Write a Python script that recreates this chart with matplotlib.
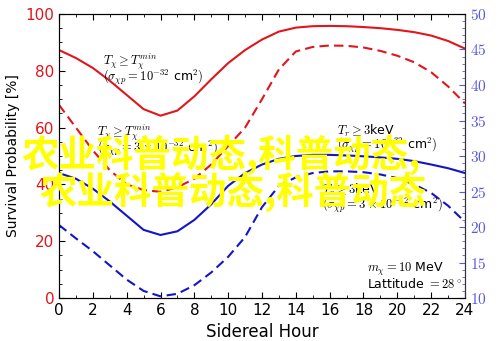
import matplotlib
matplotlib.use("Agg")
import matplotlib.pyplot as plt
from matplotlib.ticker import MultipleLocator, FuncFormatter

plt.rcParams['mathtext.fontset'] = 'cm'

# sidereal hour grid
hours = list(range(25))

# survival probability [%]
red_solid = [87.3, 84.5, 81.0, 76.5, 71.5, 66.5, 64.2, 66.0, 71.0, 77.0, 82.7, 87.3, 91.0,
             93.8, 95.2, 95.7, 95.8, 95.7, 95.4, 95.0, 94.4, 93.6, 92.4, 90.5, 87.8]
red_dashed = [68.0, 60.0, 52.0, 45.0, 40.0, 38.0, 37.4, 39.0, 42.0, 47.0, 53.5, 60.0, 70.0,
              80.5, 86.8, 88.4, 88.9, 88.8, 88.2, 87.0, 85.3, 83.0, 79.5, 74.5, 68.5]
blue_solid = [44.0, 42.0, 38.5, 34.0, 29.0, 24.0, 22.2, 23.5, 27.5, 33.0, 39.5, 44.0, 47.0,
              49.0, 50.0, 50.4, 50.4, 50.2, 49.9, 49.5, 49.0, 48.2, 47.0, 45.7, 44.0]
blue_dashed = [25.7, 21.0, 16.5, 11.5, 6.5, 2.5, 0.6, 1.5, 4.5, 9.0, 14.5, 21.5, 32.0,
               39.5, 42.5, 44.0, 44.6, 44.6, 44.3, 43.5, 42.2, 40.0, 37.0, 32.5, 26.8]

x_ticks = list(range(0, 25, 2))
left_ticks = [0, 20, 40, 60, 80, 100]
right_ticks = [10, 15, 20, 25, 30, 35, 40, 45, 50]

red = '#e0161c'
blue = '#1414c8'
light_blue = '#5a5ae0'

fig = plt.figure(figsize=(5.0, 3.41), dpi=100)
ax = fig.add_axes([0.118, 0.126, 0.812, 0.833])

ax.plot(hours, red_solid, color=red, lw=1.5)
ax.plot(hours, red_dashed, color=red, lw=1.5, ls=(0, (4.5, 2.5)))
ax.plot(hours, blue_solid, color=blue, lw=1.5)
ax.plot(hours, blue_dashed, color=blue, lw=1.5, ls=(0, (4.5, 2.5)))

ax.set_xlim(0, 24)
ax.set_ylim(0, 100)
ax.set_xticks(x_ticks)
ax.set_yticks(left_ticks)
ax.xaxis.set_minor_locator(MultipleLocator(1))
ax.yaxis.set_minor_locator(MultipleLocator(5))
ax.tick_params(axis='both', which='both', direction='in', top=True)
ax.tick_params(axis='both', which='major', length=4, labelsize=11)
ax.tick_params(axis='both', which='minor', length=2)
ax.tick_params(axis='y', labelcolor=red)
for s in ax.spines.values():
    s.set_color('#333333')

ax.set_xlabel('Sidereal Hour', fontsize=12)
ax.set_ylabel('Survival Probability [%]', fontsize=10)

ax2 = ax.twinx()
ax2.set_ylim(10, 50)
ax2.set_yticks(right_ticks)
ax2.yaxis.set_minor_locator(MultipleLocator(1))
ax2.yaxis.set_major_formatter(FuncFormatter(lambda v, p: f'${v:g}$'))
ax2.tick_params(axis='y', which='both', direction='in', colors=light_blue, labelsize=11)
ax2.tick_params(axis='y', which='major', length=4)
ax2.tick_params(axis='y', which='minor', length=2)
ax2.spines['right'].set_color('#333333')

# annotations (figure pixel coords -> fractions)
def put(px, py, s, size=9):
    fig.text(px / 500, 1 - py / 341, s, fontsize=size, va='center', ha='left')

put(103, 62, r'$T_\chi \geq T_\chi^{min}$')
put(103, 77, r'$(\sigma_{\chi p} = 10^{-32}$ cm$^2)$')
put(97, 133, r'$T_\chi \geq T_\chi^{min}$')
put(97, 148, r'$(\sigma_{\chi p} = 3\times10^{-32}$ cm$^2)$')
put(337, 131, r'$T_r \geq 3$keV')
put(337, 145, r'$(\sigma_{\chi p} = 10^{-32}$ cm$^2)$')
put(322, 190, r'$T_r \geq 3$keV')
put(322, 205, r'$(\sigma_{\chi p} = 3\times10^{-32}$ cm$^2)$')
put(367, 269, r'$m_\chi = 10$ MeV')
put(367, 284, r'Lattitude $= 28^\circ$')

# watermark
wm = dict(fontsize=27, color='#ffff00', family=['Noto Sans CJK SC', 'DejaVu Sans'],
          weight='bold', va='center', ha='left')
fig.text(22 / 500, 1 - 155 / 341, '农业科普动态,科普动态,', **wm)
fig.text(40 / 500, 1 - 192 / 341, '农业科普动态,科普动态', **wm)

fig.savefig('out.png', dpi=100)
